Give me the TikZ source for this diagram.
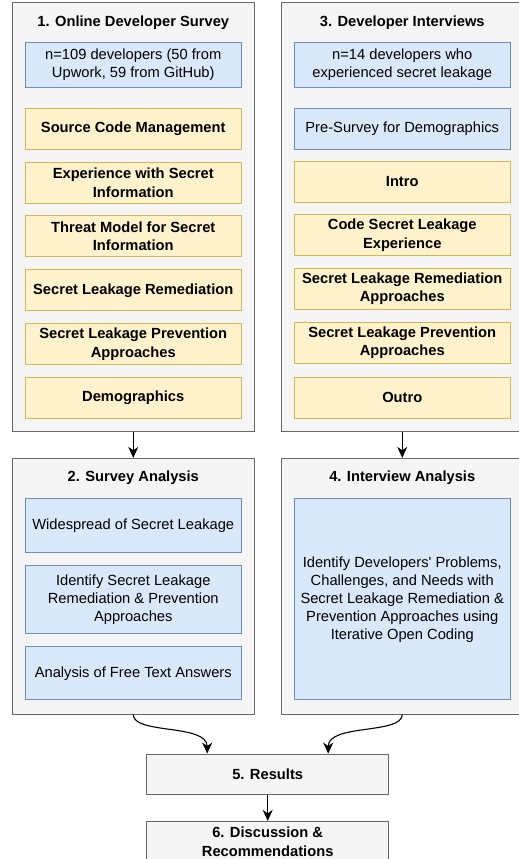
\documentclass[tikz,border=0pt]{standalone}
\usepackage{fontspec}
\setmainfont{Liberation Sans}
\usetikzlibrary{arrows.meta}
\definecolor{panelfill}{HTML}{F5F5F5}
\definecolor{paneldraw}{HTML}{666666}
\definecolor{bluefill}{HTML}{DAE8FC}
\definecolor{bluedraw}{HTML}{6C8EBF}
\definecolor{yellowfill}{HTML}{FFF2CC}
\definecolor{yellowdraw}{HTML}{D6B656}
\begin{document}
\begin{tikzpicture}[x=1pt, y=-1pt,
    font=\fontsize{14.7}{18}\selectfont,
    panel/.style={draw=paneldraw, fill=panelfill, line width=1pt, inner sep=0pt, align=center},
    heading/.style={font=\fontsize{14.7}{18.5}\selectfont\bfseries},
    bluebox/.style={draw=bluedraw, fill=bluefill, line width=1pt, align=center, inner sep=0pt, minimum width=215.7pt},
    yellowbox/.style={draw=yellowdraw, fill=yellowfill, line width=1pt, align=center, inner sep=0pt, minimum width=215.7pt, minimum height=41pt, font=\fontsize{14.7}{18.5}\selectfont\bfseries},
    arr/.style={-{Stealth[length=11pt, width=10pt, inset=3.5pt]}, line width=1.1pt}]
    \clip (0,0) rectangle (519,859);

    \node[panel, minimum width=241.5pt, minimum height=428.5pt] (survey) at (133.25, 216.75) {};
    \node[heading] (surveytitle) at (133.25, 23) {1. Online Developer Survey};
    \node[bluebox, minimum height=44.6pt] (sample) at (133.25, 65) {n=109 developers (50 from\\ Upwork, 59 from GitHub)};
    \node[yellowbox] (scm) at (133.25, 128.8) {Source Code Management};
    \node[yellowbox] (experience) at (133.25, 182.7) {Experience with Secret\\ Information};
    \node[yellowbox] (threat) at (133.25, 236.2) {Threat Model for Secret\\ Information};
    \node[yellowbox] (remediation) at (133.25, 290.3) {Secret Leakage Remediation};
    \node[yellowbox] (prevention) at (133.25, 344) {Secret Leakage Prevention\\ Approaches};
    \node[yellowbox] (demographics) at (133.25, 397.8) {Demographics};

    \node[panel, minimum width=242.5pt, minimum height=428.5pt] (interviews) at (402.25, 216.75) {};
    \node[heading] (interviewstitle) at (402.25, 23) {3. Developer Interviews};
    \node[bluebox, minimum height=44.6pt] (participants) at (402.25, 65) {n=14 developers who\\ experienced secret leakage};
    \node[bluebox, minimum height=41pt] (presurvey) at (402.25, 128.8) {Pre-Survey for Demographics};
    \node[yellowbox] (intro) at (402.25, 181.7) {Intro};
    \node[yellowbox] (leakexp) at (402.25, 235) {Code Secret Leakage\\ Experience};
    \node[yellowbox] (remedapp) at (402.25, 288.8) {Secret Leakage Remediation\\ Approaches};
    \node[yellowbox] (prevapp) at (402.25, 342.8) {Secret Leakage Prevention\\ Approaches};
    \node[yellowbox] (outro) at (402.25, 397.8) {Outro};

    \node[panel, minimum width=241.5pt, minimum height=255.7pt] (surveyanalysis) at (133.25, 586.2) {};
    \node[heading] (surveyanalysistitle) at (133.25, 478) {2. Survey Analysis};
    \node[bluebox, minimum height=53.6pt] (widespread) at (133.25, 525.5) {Widespread of Secret Leakage};
    \node[bluebox, minimum height=67.6pt] (identify) at (133.25, 599.5) {Identify Secret Leakage\\ Remediation \& Prevention\\ Approaches};
    \node[bluebox, minimum height=53.3pt] (freetext) at (133.25, 673.3) {Analysis of Free Text Answers};

    \node[panel, minimum width=242.5pt, minimum height=255.7pt] (interviewanalysis) at (402.25, 586.2) {};
    \node[heading] (interviewanalysistitle) at (402.25, 478) {4. Interview Analysis};
    \node[bluebox, minimum height=201.3pt] (coding) at (402.25, 599.3) {Identify Developers\textquotesingle{} Problems,\\ Challenges, and Needs with\\ Secret Leakage Remediation \&\\ Prevention Approaches using\\ Iterative Open Coding};

    \node[panel, heading, minimum width=242pt, minimum height=40.3pt] (results) at (267.7, 774.2) {5. Results};
    \node[panel, heading, minimum width=242pt, minimum height=40.3pt] (discussion) at (267.7, 841.5) {6. Discussion \&\\ Recommendations};

    \draw[arr] (survey.south) -- (surveyanalysis.north);
    \draw[arr] (interviews.south) -- (interviewanalysis.north);
    \draw[arr] (surveyanalysis.south) .. controls +(0,20) and +(0,-30) .. ([xshift=-60.5pt]results.north);
    \draw[arr] (interviewanalysis.south) .. controls +(0,20) and +(0,-30) .. ([xshift=60.5pt]results.north);
    \draw[arr] (results.south) -- (discussion.north);
\end{tikzpicture}
\end{document}
